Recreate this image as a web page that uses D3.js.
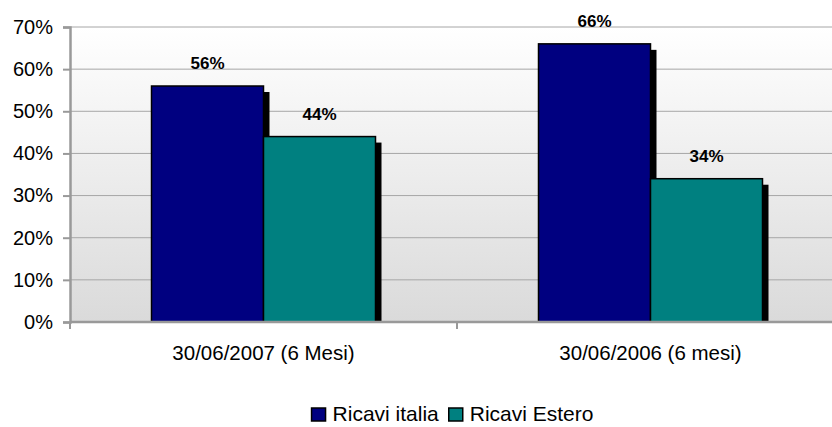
<!DOCTYPE html>
<html>
<head>
<meta charset="utf-8">
<script src="https://cdn.jsdelivr.net/npm/d3@7"></script>
<style>
    body { margin: 0; background: #fff; }
    svg { display: block; font-family: "Liberation Sans", Arial, sans-serif; }
</style>
</head>
<body>
<svg id="chart" width="832" height="427"></svg>
<script>
var categories = ['30/06/2007 (6 Mesi)', '30/06/2006 (6 mesi)'];
var seriesNames = ['Ricavi italia', 'Ricavi Estero'];
var ricaviItalia = [56, 66];
var ricaviEstero = [44, 34];
var yTicks = [0, 10, 20, 30, 40, 50, 60, 70];

(function() {
    var colors = ['#000080', '#008080'],
        shadowOffset = 6,
        plotLeft = 70,
        plotRight = 844,
        plotTop = 27,
        plotBottom = 322;

    var svg = d3.select('#chart');

    var entries = [];
    categories.forEach(function(c, i) {
        entries.push({cat: c, series: seriesNames[0], value: ricaviItalia[i]});
        entries.push({cat: c, series: seriesNames[1], value: ricaviEstero[i]});
    });

    var x0 = d3.scaleBand().domain(categories).range([plotLeft, plotRight]);
    var x1 = d3.scaleBand().domain(seriesNames).range([81.5, 305.5]);
    var y = d3.scaleLinear().domain([0, 70]).range([plotBottom, plotTop]);
    var color = d3.scaleOrdinal().domain(seriesNames).range(colors);

    // background gradient
    var grad = svg.append('defs').append('linearGradient')
        .attr('id', 'bg').attr('x1', 0).attr('y1', 0).attr('x2', 0).attr('y2', 1);
    grad.append('stop').attr('offset', '0%').attr('stop-color', '#ffffff');
    grad.append('stop').attr('offset', '100%').attr('stop-color', '#dadada');

    svg.append('rect')
        .attr('x', plotLeft).attr('y', y(70))
        .attr('width', plotRight - plotLeft).attr('height', plotBottom - y(70))
        .attr('fill', 'url(#bg)');

    // gridlines
    svg.append('g').selectAll('line').data(yTicks.filter(function(d) { return d > 0; }))
        .enter().append('line')
            .attr('x1', plotLeft).attr('x2', plotRight)
            .attr('y1', function(d) { return y(d); })
            .attr('y2', function(d) { return y(d); })
            .attr('stroke', '#a6a6a6').attr('stroke-width', 1);

    // bars with drop shadow
    var groups = svg.append('g').selectAll('g').data(entries).enter().append('g');

    groups.append('rect')
        .attr('x', function(d) { return x0(d.cat) + x1(d.series) + shadowOffset; })
        .attr('y', function(d) { return y(d.value) + shadowOffset; })
        .attr('width', x1.bandwidth())
        .attr('height', function(d) { return plotBottom - y(d.value) - shadowOffset; })
        .attr('fill', '#000');

    groups.append('rect')
        .attr('x', function(d) { return x0(d.cat) + x1(d.series); })
        .attr('y', function(d) { return y(d.value); })
        .attr('width', x1.bandwidth())
        .attr('height', function(d) { return plotBottom - y(d.value); })
        .attr('fill', function(d) { return color(d.series); })
        .attr('stroke', '#000').attr('stroke-width', 1.5);

    // value labels
    svg.append('g').selectAll('text').data(entries).enter().append('text')
        .attr('x', function(d) { return x0(d.cat) + x1(d.series) + x1.bandwidth() / 2; })
        .attr('y', function(d) { return y(d.value) - 17; })
        .attr('text-anchor', 'middle')
        .attr('font-size', 17).attr('font-weight', 'bold')
        .text(function(d) { return d.value + '%'; });

    // y axis
    var yAxis = d3.axisLeft(y).tickValues(yTicks).tickSize(7).tickPadding(10)
        .tickFormat(function(d) { return d + '%'; });
    var yg = svg.append('g').attr('transform', 'translate(' + plotLeft + ',0)').call(yAxis);
    yg.select('.domain').attr('stroke', '#999').attr('stroke-width', 2.5);
    yg.selectAll('.tick line').attr('stroke', '#999').attr('stroke-width', 2);
    yg.selectAll('.tick text').attr('font-size', 20).attr('fill', '#000')
        .attr('font-family', '"Liberation Sans", Arial, sans-serif');

    // x axis
    var xTicks = [plotLeft, x0(categories[1])];
    svg.append('line')
        .attr('x1', plotLeft).attr('x2', plotRight).attr('y1', plotBottom).attr('y2', plotBottom)
        .attr('stroke', '#999').attr('stroke-width', 2.5);
    svg.append('g').selectAll('line').data(xTicks).enter().append('line')
        .attr('x1', function(d) { return d; }).attr('x2', function(d) { return d; })
        .attr('y1', plotBottom).attr('y2', plotBottom + 7)
        .attr('stroke', '#999').attr('stroke-width', 2);
    svg.append('g').selectAll('text').data(categories).enter().append('text')
        .attr('x', function(d) { return x0(d) + x0.bandwidth() / 2; })
        .attr('y', 360)
        .attr('text-anchor', 'middle')
        .attr('font-size', 20.5)
        .text(function(d) { return d; });

    // legend, centred under the chart
    var legend = svg.append('g');
    var cursor = 0;
    seriesNames.forEach(function(name) {
        legend.append('rect')
            .attr('x', cursor).attr('y', -13).attr('width', 14).attr('height', 13)
            .attr('fill', color(name)).attr('stroke', '#000').attr('stroke-width', 1.5);
        var t = legend.append('text')
            .attr('x', cursor + 21).attr('y', 0)
            .attr('font-size', 21)
            .text(name);
        cursor += 21 + t.node().getComputedTextLength() + 10;
    });
    var legendWidth = cursor - 10;
    legend.attr('transform', 'translate(' + (452.5 - legendWidth / 2) + ',421)');
})();
</script>
</body>
</html>
